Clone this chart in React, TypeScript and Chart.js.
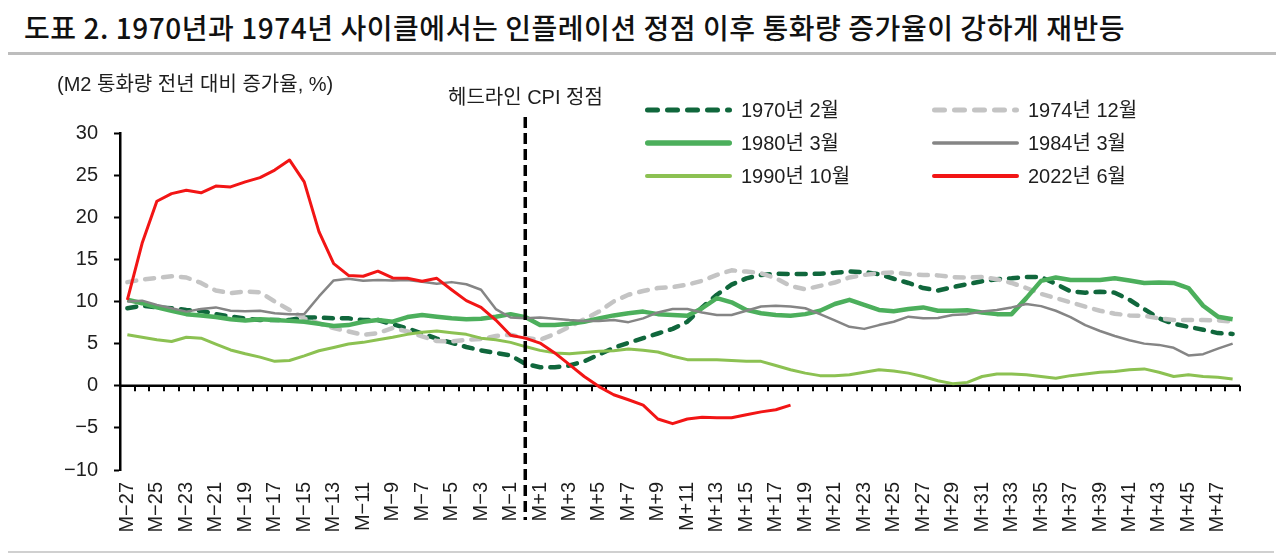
import React, { useEffect, useRef } from 'react';
import { Chart, registerables } from 'chart.js';

Chart.register(...registerables);

// ---------- data ----------
const categories: string[] = [
  'M−27', 'M−26', 'M−25', 'M−24', 'M−23', 'M−22', 'M−21', 'M−20', 'M−19', 'M−18',
  'M−17', 'M−16', 'M−15', 'M−14', 'M−13', 'M−12', 'M−11', 'M−10', 'M−9', 'M−8',
  'M−7', 'M−6', 'M−5', 'M−4', 'M−3', 'M−2', 'M−1', 'M0',
  'M+1', 'M+2', 'M+3', 'M+4', 'M+5', 'M+6', 'M+7', 'M+8', 'M+9', 'M+10',
  'M+11', 'M+12', 'M+13', 'M+14', 'M+15', 'M+16', 'M+17', 'M+18', 'M+19', 'M+20',
  'M+21', 'M+22', 'M+23', 'M+24', 'M+25', 'M+26', 'M+27', 'M+28', 'M+29', 'M+30',
  'M+31', 'M+32', 'M+33', 'M+34', 'M+35', 'M+36', 'M+37', 'M+38', 'M+39', 'M+40',
  'M+41', 'M+42', 'M+43', 'M+44', 'M+45', 'M+46', 'M+47', 'M+48',
];

const cpiPeakLabel = 'M0';

const s1970Feb: number[] = [
  9.2, 9.5, 9.3, 9.2, 9.0, 8.9, 8.5, 8.2, 8.0, 7.8, 7.8, 7.8, 8.1, 8.1, 8.0, 8.0, 7.8, 7.8, 7.3, 6.8,
  6.2, 5.6, 5.1, 4.6, 4.2, 3.9, 3.6, 2.6,
  2.2, 2.2, 2.4, 2.9, 3.7, 4.5, 5.1, 5.65, 6.2, 6.75, 7.6, 9.3, 10.8, 12.0, 12.75, 13.15, 13.3, 13.25,
  13.25, 13.3, 13.4, 13.55, 13.5, 13.25, 12.7,
  12.2, 11.6, 11.3, 11.7, 12.05, 12.4, 12.65, 12.75, 12.9, 12.9, 12.1, 11.2, 11.05, 11.15, 11.05, 10.2,
  9.1, 8.0, 7.35, 7.0, 6.65, 6.25, 6.15,
];

const s1974Dec: number[] = [
  12.3, 12.6, 12.8, 13.0, 12.85, 12.2, 11.3, 11.0, 11.2, 11.1, 10.0, 9.0, 8.0, 7.4, 6.85, 6.45, 6.05, 6.25,
  6.85, 6.45, 5.85, 5.3, 5.25, 5.45, 5.55, 5.9, 6.05, 5.7,
  5.45, 6.15, 7.0, 7.9, 8.8, 10.0, 10.8, 11.25, 11.6, 11.7, 12.0, 12.45, 13.15, 13.7, 13.55, 13.35, 12.75,
  11.85, 11.45, 11.85, 12.25, 12.85, 13.15, 13.35, 13.45,
  13.25, 13.15, 13.1, 12.9, 12.85, 12.9, 12.65, 12.2, 11.6, 10.9, 10.4, 9.9, 9.4, 8.9, 8.55, 8.35, 8.3,
  8.0, 7.8, 7.8, 7.8, 7.75, 7.6,
];

const s1980Mar: number[] = [
  10.2, 9.8, 9.3, 8.9, 8.5, 8.35, 8.15, 7.9, 7.75, 7.9, 7.8, 7.7, 7.6, 7.35, 7.1, 7.2, 7.6, 7.8, 7.6,
  8.15, 8.4, 8.2, 8.0, 7.9, 7.95, 8.2, 8.5, 8.15,
  7.2, 7.2, 7.35, 7.6, 8.0, 8.35, 8.6, 8.8, 8.5, 8.4, 8.3, 9.2, 10.4, 9.9, 9.0, 8.6, 8.4, 8.3, 8.5, 8.9,
  9.7, 10.2, 9.6, 9.0, 8.85,
  9.1, 9.3, 8.9, 8.9, 8.95, 8.7, 8.5, 8.5, 10.4, 12.45, 12.85, 12.55, 12.55, 12.55, 12.75, 12.5, 12.2,
  12.25, 12.2, 11.6, 9.5, 8.2, 7.9,
];

const s1984Mar: number[] = [
  10.0, 10.1, 9.6, 9.2, 8.8, 9.1, 9.3, 8.9, 8.85, 8.9, 8.6, 8.5, 8.5, 10.6, 12.5, 12.7, 12.45, 12.55,
  12.5, 12.55, 12.35, 12.1, 12.3, 12.05, 11.4, 9.1, 8.1, 8.0,
  8.1, 7.95, 7.8, 7.7, 7.7, 7.8, 7.55, 8.0, 8.7, 9.1, 9.1, 8.7, 8.4, 8.4, 8.9, 9.4, 9.5, 9.4, 9.2, 8.5,
  7.75, 7.0, 6.75, 7.2, 7.6,
  8.2, 8.0, 8.05, 8.4, 8.5, 8.8, 9.0, 9.3, 9.7, 9.45, 8.9, 8.15, 7.2, 6.5, 5.9, 5.4, 5.0, 4.85, 4.5,
  3.6, 3.75, 4.4, 5.0,
];

const s1990Oct: number[] = [
  6.05, 5.75, 5.45, 5.25, 5.75, 5.65, 4.95, 4.25, 3.8, 3.4, 2.9, 3.0, 3.55, 4.15, 4.55, 4.95, 5.15, 5.45,
  5.75, 6.1, 6.35, 6.5, 6.3, 6.1, 5.65, 5.45, 5.15, 4.65,
  4.2, 3.9, 3.8, 3.95, 4.1, 4.15, 4.35, 4.2, 4.0, 3.5, 3.1, 3.1, 3.1, 3.0, 2.9, 2.9, 2.4, 1.9, 1.5, 1.2,
  1.2, 1.3, 1.6, 1.9, 1.75,
  1.5, 1.1, 0.6, 0.25, 0.4, 1.1, 1.4, 1.4, 1.3, 1.1, 0.9, 1.2, 1.4, 1.6, 1.7, 1.9, 2.0, 1.6, 1.1, 1.3,
  1.1, 1.0, 0.8,
];

const s2022Jun: number[] = [
  10.2, 16.9, 21.9, 22.8, 23.2, 22.9, 23.7, 23.6, 24.2, 24.7, 25.6, 26.8, 24.2, 18.3, 14.5, 13.1, 13.0,
  13.6, 12.8, 12.75, 12.4, 12.75, 11.4, 10.1, 9.3, 7.8, 6.0, 5.65,
  5.06, 3.9, 2.5, 1.1, -0.1, -1.07, -1.66, -2.3, -3.95, -4.5, -3.95, -3.75, -3.8, -3.8, -3.45, -3.1,
  -2.85, -2.3,
];

const seriesNames = ['1970년 2월', '1974년 12월', '1980년 3월', '1984년 3월', '1990년 10월', '2022년 6월'];
const yTicks = { min: -10, max: 30, step: 5 };

const titleText = '도표 2. 1970년과 1974년 사이클에서는 인플레이션 정점 이후 통화량 증가율이 강하게 재반등';
const unitText = '(M2 통화량 전년 대비 증가율, %)';
const cpiText = '헤드라인 CPI 정점';

// ---------- styles ----------
const FONT_FAMILY = '"Liberation Sans", "Noto Sans CJK KR", sans-serif';
const TEXT_COLOR = '#1e1e1e';
const FONT_SIZE = 20;

const seriesStyles = [
  { color: '#10673c', width: 4.5, dash: [9, 9], legendWidth: 5, legendDash: [10, 10] },
  { color: '#c4c4c4', width: 4.5, dash: [9, 9], legendWidth: 5, legendDash: [10, 10] },
  { color: '#4caf5c', width: 4.5, dash: [] as number[], legendWidth: 5.5, legendDash: [] as number[] },
  { color: '#858585', width: 2.5, dash: [] as number[], legendWidth: 3.5, legendDash: [] as number[] },
  { color: '#8cc152', width: 3, dash: [] as number[], legendWidth: 4, legendDash: [] as number[] },
  { color: '#f21515', width: 3, dash: [] as number[], legendWidth: 4, legendDash: [] as number[] },
];

const decorPlugin = {
  id: 'decor',
  beforeDatasetsDraw(chart: any) {
    const { ctx, chartArea, scales } = chart;
    const x = scales.x;
    const y = scales.y;
    const y0 = y.getPixelForValue(0);
    const step = x.getPixelForValue(1) - x.getPixelForValue(0);
    ctx.save();
    ctx.strokeStyle = '#000';
    ctx.lineWidth = 2.5;
    ctx.beginPath();
    ctx.moveTo(chartArea.left, y0);
    ctx.lineTo(chartArea.right, y0);
    ctx.stroke();
    ctx.lineWidth = 2;
    for (let i = 0; i < categories.length; i++) {
      const bx = Math.round(x.getPixelForValue(i) + step / 2);
      ctx.beginPath();
      ctx.moveTo(bx, y0);
      ctx.lineTo(bx, y0 + 5.5);
      ctx.stroke();
    }
    ctx.restore();
  },
  afterDraw(chart: any) {
    const { ctx, scales } = chart;
    const x = scales.x;
    ctx.save();
    // CPI peak dashed line
    const xm = x.getPixelForValue(categories.indexOf(cpiPeakLabel));
    ctx.strokeStyle = '#000';
    ctx.lineWidth = 3.5;
    ctx.setLineDash([11, 5]);
    ctx.beginPath();
    ctx.moveTo(xm, 117);
    ctx.lineTo(xm, 520);
    ctx.stroke();
    ctx.setLineDash([]);

    ctx.fillStyle = TEXT_COLOR;
    ctx.textBaseline = 'middle';
    ctx.textAlign = 'left';
    ctx.font = `${FONT_SIZE}px ${FONT_FAMILY}`;
    ctx.fillText(unitText, 57, 85);
    ctx.fillText(cpiText, 448, 98);

    // legend
    const colX = [645, 932];
    const rowY = [110, 143, 176];
    const lineLen = 87;
    seriesNames.forEach((name, i) => {
      const st = seriesStyles[i];
      const cx = colX[i % 2];
      const cy = rowY[Math.floor(i / 2)];
      ctx.strokeStyle = st.color;
      ctx.lineWidth = st.legendWidth;
      ctx.lineCap = 'round';
      ctx.setLineDash(st.legendDash);
      ctx.beginPath();
      ctx.moveTo(cx + st.legendWidth / 2, cy);
      ctx.lineTo(cx + lineLen - st.legendWidth / 2, cy);
      ctx.stroke();
      ctx.setLineDash([]);
      ctx.fillStyle = TEXT_COLOR;
      ctx.font = `${FONT_SIZE}px ${FONT_FAMILY}`;
      ctx.fillText(name, cx + 96, cy + 1);
    });
    ctx.restore();
  },
};

export default function App() {
  const canvasRef = useRef<HTMLCanvasElement | null>(null);

  useEffect(() => {
    const canvas = canvasRef.current;
    if (!canvas) return;
    const seriesData = [s1970Feb, s1974Dec, s1980Mar, s1984Mar, s1990Oct, s2022Jun];
    const datasets = seriesData.map((d, i) => ({
      label: seriesNames[i],
      data: d,
      borderColor: seriesStyles[i].color,
      backgroundColor: seriesStyles[i].color,
      borderWidth: seriesStyles[i].width,
      borderDash: seriesStyles[i].dash,
      borderCapStyle: seriesStyles[i].dash.length ? 'round' : 'butt',
      borderJoinStyle: 'round',
      pointRadius: 0,
      tension: 0,
      fill: false,
      order: seriesData.length - i,
    }));

    const chart = new Chart(canvas, {
      type: 'line',
      data: { labels: categories, datasets: datasets as any },
      plugins: [decorPlugin],
      options: {
        animation: false,
        responsive: false,
        devicePixelRatio: 1,
        layout: { padding: { top: 133, right: 44, bottom: 0, left: 0 } },
        plugins: {
          legend: { display: false },
          tooltip: { enabled: false },
          title: { display: false },
        },
        scales: {
          x: {
            type: 'category',
            offset: true,
            grid: { display: false, drawTicks: false },
            border: { display: false },
            ticks: {
              autoSkip: false,
              minRotation: 90,
              maxRotation: 90,
              padding: 12,
              color: TEXT_COLOR,
              font: { family: FONT_FAMILY, size: FONT_SIZE },
              callback: (_v: any, i: number) => (i % 2 === 0 ? categories[i] : ''),
            },
            afterFit: (s: any) => {
              s.height = 86;
            },
          },
          y: {
            min: yTicks.min,
            max: yTicks.max,
            ticks: {
              stepSize: yTicks.step,
              padding: 16,
              color: TEXT_COLOR,
              font: { family: FONT_FAMILY, size: FONT_SIZE },
              callback: (v: any) => (Number(v) < 0 ? '−' + Math.abs(Number(v)) : String(v)),
            },
            grid: { drawOnChartArea: false, drawTicks: true, tickLength: 6, tickColor: '#000', tickWidth: 2 },
            border: { display: true, color: '#000', width: 2.5 },
            afterFit: (s: any) => {
              s.width = 120;
            },
          },
        },
      } as any,
    });
    return () => chart.destroy();
  }, []);

  return (
    <div style={{ position: 'absolute', left: 0, top: 0, width: 1284, height: 556, background: '#fff', overflow: 'hidden' }}>
      <div
        style={{
          position: 'absolute',
          left: 24,
          top: 9,
          fontFamily: '"Noto Sans CJK KR", sans-serif',
          fontWeight: 500,
          fontSize: 28,
          lineHeight: '36px',
          letterSpacing: '0.55px',
          color: '#111',
          whiteSpace: 'nowrap',
        }}
      >
        {titleText}
      </div>
      <div style={{ position: 'absolute', left: 8, top: 52, width: 1268, height: 3, background: '#bdbdbd' }} />
      <div style={{ position: 'absolute', left: 8, top: 551, width: 1266, height: 2, background: '#d0d0d0' }} />
      <canvas
        ref={canvasRef}
        width={1284}
        height={556}
        style={{ position: 'absolute', left: 0, top: 0, width: 1284, height: 556 }}
      />
    </div>
  );
}
